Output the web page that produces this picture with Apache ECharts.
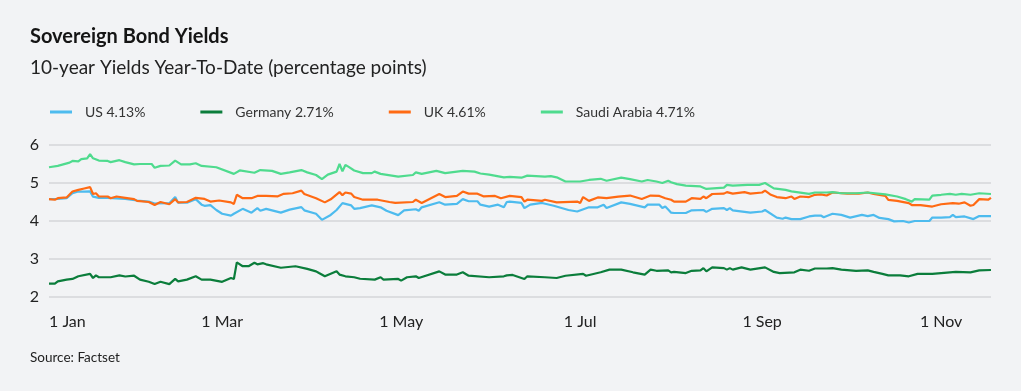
<!DOCTYPE html>
<html>
<head>
<meta charset="utf-8">
<script src="https://cdn.jsdelivr.net/npm/echarts@6/dist/echarts.min.js"></script>
<style>
html,body{margin:0;padding:0;background:#f2f3f5;}
#chart{width:1021px;height:391px;}
</style>
</head>
<body>
<div id="chart"></div>
<script>
// x values are days since 1 Jan 2025
var tickDays = [0, 59, 120, 181, 243, 304];
var tickLabels = ['1 Jan', '1 Mar', '1 May', '1 Jul', '1 Sep', '1 Nov'];

var seriesNames = ['US 4.13%', 'Germany 2.71%', 'UK 4.61%', 'Saudi Arabia 4.71%'];

var usDays = [0,3,6,8,10,12,14,15,17,20,26,30,34,36,41,43,44,47,50,52,53,55,57,59,62,63,66,69,71,72,74,79,82,86,87,91,93,96,98,100,103,104,106,110,113,115,119,121,125,126,127,133,135,139,141,143,146,147,150,153,155,156,157,161,162,164,168,172,177,180,184,187,189,190,195,198,203,204,208,209,210,211,212,213,217,219,223,224,226,230,231,232,233,239,243,244,248,250,251,253,256,259,261,263,264,267,270,273,277,279,281,283,286,288,291,293,295,300,301,304,307,308,309,312,315,317,321];
var usVals = [4.575,4.58,4.60,4.73,4.775,4.775,4.78,4.64,4.61,4.61,4.58,4.54,4.51,4.46,4.47,4.63,4.48,4.48,4.575,4.43,4.40,4.42,4.29,4.19,4.14,4.19,4.32,4.22,4.34,4.27,4.32,4.22,4.30,4.365,4.28,4.19,4.03,4.16,4.29,4.47,4.41,4.32,4.34,4.41,4.36,4.27,4.155,4.28,4.31,4.27,4.36,4.495,4.43,4.45,4.575,4.52,4.52,4.43,4.38,4.43,4.36,4.50,4.51,4.475,4.34,4.43,4.475,4.40,4.29,4.25,4.36,4.36,4.43,4.34,4.49,4.45,4.36,4.43,4.43,4.34,4.38,4.30,4.22,4.21,4.21,4.28,4.29,4.24,4.32,4.34,4.29,4.34,4.28,4.22,4.25,4.29,4.09,4.06,4.09,4.05,4.05,4.12,4.14,4.145,4.10,4.19,4.16,4.09,4.16,4.13,4.16,4.08,4.05,3.99,4.00,3.96,4.00,4.00,4.09,4.09,4.10,4.16,4.10,4.12,4.05,4.13,4.13];

var deDays = [0,2,3,6,8,10,14,15,16,17,21,24,26,29,31,34,36,38,41,43,44,47,50,52,55,59,62,63,64,66,68,70,71,73,74,79,84,88,91,92,94,98,99,101,104,106,111,113,114,119,120,122,125,126,133,135,139,141,143,150,155,156,158,162,163,169,173,176,182,183,188,191,195,199,203,205,207,211,212,213,217,219,222,223,224,226,230,231,232,233,236,239,244,247,249,254,256,259,261,265,267,270,275,279,281,284,286,290,293,296,301,304,309,314,317,321];
var deVals = [2.35,2.35,2.41,2.457,2.475,2.545,2.61,2.50,2.57,2.52,2.52,2.57,2.54,2.56,2.457,2.40,2.34,2.40,2.34,2.475,2.41,2.457,2.545,2.457,2.457,2.40,2.50,2.475,2.91,2.81,2.81,2.90,2.86,2.89,2.86,2.77,2.81,2.74,2.675,2.63,2.545,2.675,2.59,2.545,2.52,2.48,2.457,2.52,2.457,2.475,2.43,2.52,2.545,2.50,2.675,2.59,2.59,2.65,2.56,2.52,2.545,2.57,2.58,2.475,2.545,2.52,2.50,2.56,2.61,2.56,2.65,2.72,2.72,2.65,2.59,2.72,2.69,2.70,2.65,2.66,2.63,2.69,2.70,2.76,2.675,2.78,2.76,2.72,2.76,2.72,2.78,2.72,2.78,2.66,2.63,2.65,2.72,2.69,2.75,2.75,2.76,2.72,2.69,2.70,2.66,2.61,2.57,2.57,2.545,2.61,2.61,2.63,2.66,2.65,2.70,2.71];

var ukDays = [0,2,3,6,8,10,12,14,15,16,17,20,21,23,26,29,30,34,36,38,41,43,44,47,50,53,55,58,62,63,64,66,69,71,74,78,80,83,86,87,91,94,96,99,100,101,103,104,107,112,116,118,124,125,127,133,135,139,141,143,146,148,152,154,157,161,162,163,168,169,173,180,181,182,184,187,190,194,198,202,205,208,210,212,213,217,219,222,223,224,226,230,231,233,237,239,243,244,246,248,251,253,254,256,259,261,263,265,267,272,276,279,281,285,286,289,293,294,297,301,304,308,310,312,314,315,317,320,321];
var ukVals = [4.575,4.56,4.60,4.62,4.775,4.82,4.855,4.89,4.71,4.73,4.645,4.645,4.60,4.645,4.61,4.575,4.53,4.50,4.42,4.50,4.44,4.575,4.49,4.50,4.61,4.58,4.51,4.54,4.49,4.45,4.69,4.60,4.60,4.66,4.66,4.65,4.715,4.73,4.80,4.71,4.60,4.49,4.57,4.76,4.68,4.75,4.72,4.63,4.56,4.56,4.50,4.475,4.50,4.56,4.475,4.71,4.63,4.66,4.775,4.72,4.72,4.65,4.66,4.60,4.66,4.63,4.51,4.56,4.53,4.56,4.49,4.51,4.475,4.63,4.53,4.62,4.60,4.64,4.67,4.58,4.67,4.66,4.60,4.56,4.51,4.51,4.60,4.58,4.645,4.60,4.71,4.72,4.76,4.72,4.76,4.72,4.75,4.80,4.69,4.63,4.60,4.645,4.58,4.645,4.63,4.69,4.70,4.67,4.75,4.72,4.72,4.75,4.71,4.66,4.555,4.53,4.47,4.42,4.42,4.38,4.44,4.47,4.455,4.49,4.40,4.42,4.575,4.56,4.61];

var saDays = [0,3,7,8,10,11,13,14,15,17,20,21,24,26,29,31,35,36,38,41,43,45,48,50,52,57,63,65,70,72,76,79,82,86,88,91,93,95,98,99,100,101,102,104,107,110,111,113,119,124,125,127,132,135,139,141,145,147,150,155,157,161,163,169,171,173,176,181,184,188,190,195,198,202,204,207,209,211,212,214,217,222,224,230,231,233,238,242,244,247,251,253,259,261,265,267,270,275,279,285,289,292,294,295,300,301,304,307,309,311,314,317,321];
var saVals = [5.415,5.45,5.535,5.58,5.57,5.63,5.65,5.76,5.65,5.59,5.58,5.55,5.60,5.55,5.49,5.50,5.50,5.40,5.45,5.46,5.59,5.49,5.49,5.52,5.45,5.415,5.24,5.33,5.27,5.34,5.32,5.24,5.28,5.34,5.28,5.21,5.10,5.22,5.30,5.50,5.31,5.475,5.43,5.33,5.26,5.26,5.30,5.24,5.17,5.21,5.28,5.24,5.32,5.26,5.30,5.32,5.30,5.25,5.22,5.15,5.16,5.14,5.195,5.17,5.18,5.15,5.04,5.04,5.08,5.11,5.06,5.14,5.10,5.04,5.08,5.04,5.00,5.06,5.02,4.97,4.93,4.91,4.845,4.88,4.95,4.93,4.95,4.95,5.00,4.86,4.82,4.78,4.715,4.75,4.75,4.76,4.73,4.73,4.75,4.70,4.645,4.575,4.51,4.575,4.56,4.67,4.69,4.715,4.69,4.715,4.69,4.73,4.71];

var colors = ['#4dbbee', '#0b7d3b', '#ff6a13', '#4fdb8e'];

function pairs(d, v) { return d.map(function (x, i) { return [x, v[i]]; }); }
var allDays = [usDays, deDays, ukDays, saDays];
var allVals = [usVals, deVals, ukVals, saVals];

var chart = echarts.init(document.getElementById('chart'), null, {renderer: 'canvas'});
chart.setOption({
  backgroundColor: '#f2f3f5',
  animation: false,
  title: [
    {text: 'Sovereign Bond Yields', left: 30, top: 27, padding: 0,
     textStyle: {fontFamily: 'Lato', fontWeight: 'bold', fontSize: 20, color: '#151515'}},
    {text: '10-year Yields Year-To-Date (percentage points)', left: 30, top: 58, padding: 0,
     textStyle: {fontFamily: 'Lato', fontWeight: 'normal', fontSize: 19, color: '#222'}},
    {text: 'Source: Factset', left: 30, top: 351, padding: 0,
     textStyle: {fontFamily: 'Lato', fontWeight: 'normal', fontSize: 13.5, color: '#222'}}
  ],
  legend: {
    left: 50, top: 105, padding: 0, itemWidth: 22, itemHeight: 3, itemGap: 55, icon: 'rect',
    textStyle: {fontFamily: 'Lato', fontSize: 14, color: '#333', padding: [0, 0, 0, 8]},
    data: seriesNames
  },
  grid: {left: 49, right: 30, top: 145, bottom: 94, containLabel: false},
  xAxis: {
    type: 'value', min: 0, max: 321,
    axisLine: {show: false}, axisTick: {show: false}, splitLine: {show: false},
    axisLabel: {
      customValues: tickDays, margin: 17, alignMinLabel: 'left',
      fontFamily: 'Lato', fontSize: 16, color: '#222',
      formatter: function (v) { var i = tickDays.indexOf(v); return i >= 0 ? tickLabels[i] : ''; }
    }
  },
  yAxis: {
    type: 'value', min: 2, max: 6, interval: 1,
    axisLine: {show: false}, axisTick: {show: false},
    splitLine: {lineStyle: {color: '#d5d6d9', width: 1.5}},
    axisLabel: {margin: 10, fontFamily: 'Lato', fontSize: 16, color: '#222'}
  },
  series: seriesNames.map(function (n, i) {
    return {
      name: n, type: 'line', showSymbol: false, symbol: 'none',
      data: pairs(allDays[i], allVals[i]),
      itemStyle: {color: colors[i]},
      lineStyle: {color: colors[i], width: 2.2}
    };
  })
});
</script>
</body>
</html>
